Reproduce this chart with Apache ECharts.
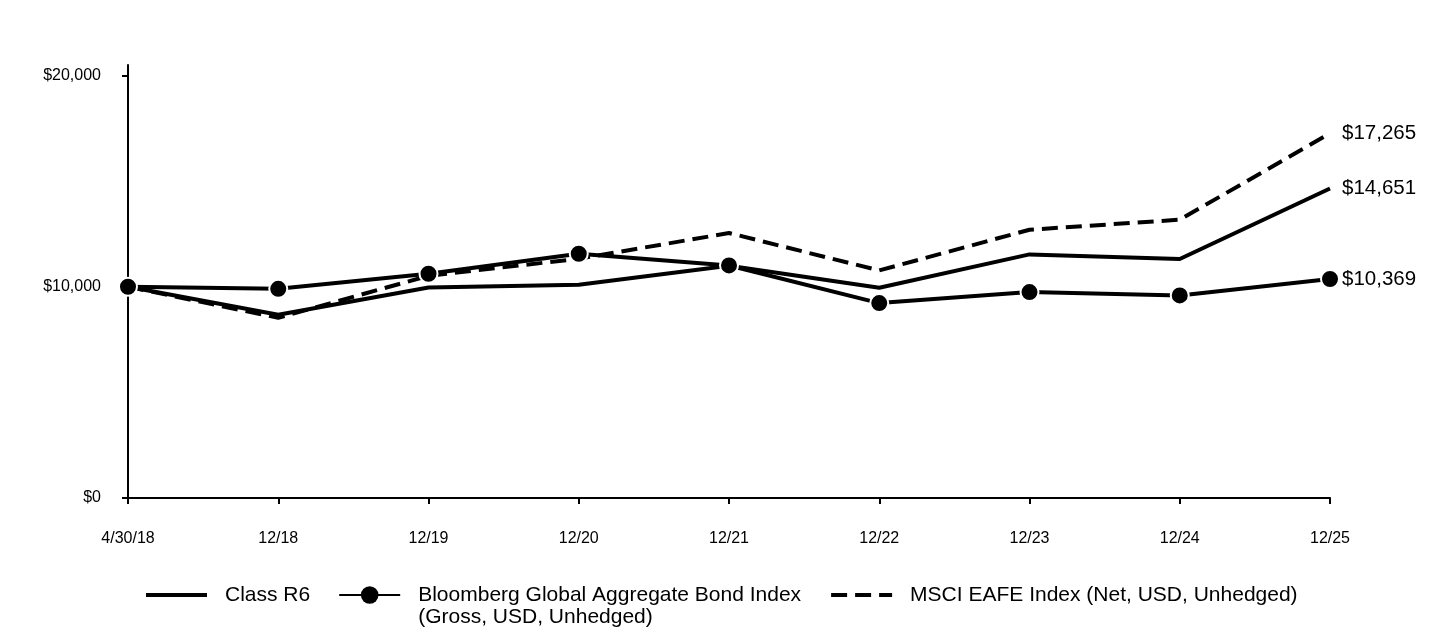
<!DOCTYPE html>
<html><head><meta charset="utf-8">
<script src="https://cdn.jsdelivr.net/npm/echarts@6/dist/echarts.min.js"></script>
<style>html,body{margin:0;padding:0;background:#fff}#c{width:1440px;height:636px}</style>
</head><body><div id="c"></div>
<script>
const categories = ['4/30/18','12/18','12/19','12/20','12/21','12/22','12/23','12/24','12/25'];
const classR6 = [10000, 8673, 9970, 10095, 11000, 9953, 11532, 11313, 14651];
const bloomberg = [10000, 9905, 10616, 11564, 11010, 9227, 9749, 9589, 10369];
const msci = [10000, 8531, 10521, 11327, 12544, 10773, 12701, 13175, 17265];
const yTicks = [0, 10000, 20000];
const seriesNames = ['Class R6', 'Bloomberg Global Aggregate Bond Index\n(Gross, USD, Unhedged)', 'MSCI EAFE Index (Net, USD, Unhedged)'];

const FONT = 'Arial, "Liberation Sans", sans-serif';
const money = v => '$' + Math.round(v).toLocaleString('en-US');
const chart = echarts.init(document.getElementById('c'));
const endLabel = {show: true, formatter: p => money(p.value), fontSize: 20.5, color: '#000', fontFamily: FONT, distance: 12};
const hideSym = {color: 'rgba(0,0,0,0)', borderWidth: 0, opacity: 0};
chart.setOption({
  animation: false,
  grid: {left: 128, right: 110, top: 65, bottom: 138},
  xAxis: {
    type: 'category', data: categories, boundaryGap: false,
    axisLine: {lineStyle: {color: '#000', width: 2}},
    axisTick: {show: true, length: 6, lineStyle: {color: '#000', width: 2}, alignWithLabel: true},
    axisLabel: {color: '#000', fontSize: 16, fontFamily: FONT, margin: 33}
  },
  yAxis: {
    type: 'value', min: 0, max: 20500, interval: 10000,
    splitLine: {show: false},
    axisLine: {show: true, lineStyle: {color: '#000', width: 2}},
    axisTick: {show: true, length: 6, lineStyle: {color: '#000', width: 2}, customValues: yTicks},
    axisLabel: {color: '#000', fontSize: 16, fontFamily: FONT, margin: 27, formatter: money, customValues: yTicks}
  },
  legend: {
    left: 139, top: 557, itemWidth: 61, itemHeight: 22, itemGap: 28,
    textStyle: {color: '#000', fontSize: 21, fontFamily: FONT, padding: [0, 0, 0, 13], lineHeight: 22},
    formatter: name => name === seriesNames[1] ? '\n' + name : name,
    data: [
      {name: seriesNames[0], itemStyle: hideSym, lineStyle: {width: 4, color: '#000'}},
      {name: seriesNames[1], itemStyle: {color: '#000', borderWidth: 0}, lineStyle: {width: 2, color: '#000'}},
      {name: seriesNames[2], itemStyle: hideSym, lineStyle: {width: 4, color: '#000', type: [16, 8]}}
    ]
  },
  series: [
    {name: seriesNames[0], type: 'line', data: classR6, symbol: 'none', z: 3,
     lineStyle: {color: '#000', width: 4}, itemStyle: {color: '#000'}, endLabel: endLabel},
    {name: seriesNames[1], type: 'line', data: bloomberg, symbol: 'circle', symbolSize: 18, z: 4,
     lineStyle: {color: '#000', width: 4}, itemStyle: {color: '#000', borderColor: '#fff', borderWidth: 2}, endLabel: endLabel},
    {name: seriesNames[2], type: 'line', data: msci, symbol: 'none', z: 2,
     lineStyle: {color: '#000', width: 4, type: [16, 8]}, itemStyle: {color: '#000'}, endLabel: endLabel}
  ]
});
</script></body></html>
